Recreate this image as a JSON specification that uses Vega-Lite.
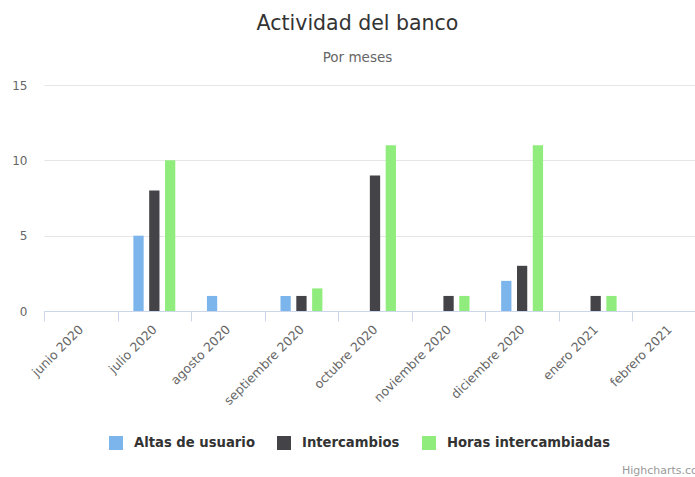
{
  "$schema": "https://vega.github.io/schema/vega-lite/v6.json",
  "width": 651,
  "height": 226,
  "autosize": {"type": "none"},
  "padding": {"left": 44, "top": 85, "right": 0, "bottom": 166},
  "background": "white",
  "config": {
    "font": "DejaVu Sans",
    "view": {"stroke": null}
  },
  "title": {
    "text": "Actividad del banco",
    "subtitle": "Por meses",
    "anchor": "middle",
    "frame": "group",
    "dx": -12,
    "fontSize": 20.5,
    "fontWeight": "normal",
    "color": "#333333",
    "subtitleFontSize": 13.5,
    "subtitleColor": "#666666",
    "subtitlePadding": 16,
    "offset": 15
  },
  "data": {
    "values": [
      {"mes": "junio 2020", "serie": "Altas de usuario", "valor": 0},
      {"mes": "junio 2020", "serie": "Intercambios", "valor": 0},
      {"mes": "junio 2020", "serie": "Horas intercambiadas", "valor": 0},
      {"mes": "julio 2020", "serie": "Altas de usuario", "valor": 5},
      {"mes": "julio 2020", "serie": "Intercambios", "valor": 8},
      {"mes": "julio 2020", "serie": "Horas intercambiadas", "valor": 10},
      {"mes": "agosto 2020", "serie": "Altas de usuario", "valor": 1},
      {"mes": "agosto 2020", "serie": "Intercambios", "valor": 0},
      {"mes": "agosto 2020", "serie": "Horas intercambiadas", "valor": 0},
      {"mes": "septiembre 2020", "serie": "Altas de usuario", "valor": 1},
      {"mes": "septiembre 2020", "serie": "Intercambios", "valor": 1},
      {"mes": "septiembre 2020", "serie": "Horas intercambiadas", "valor": 1.5},
      {"mes": "octubre 2020", "serie": "Altas de usuario", "valor": 0},
      {"mes": "octubre 2020", "serie": "Intercambios", "valor": 9},
      {"mes": "octubre 2020", "serie": "Horas intercambiadas", "valor": 11},
      {"mes": "noviembre 2020", "serie": "Altas de usuario", "valor": 0},
      {"mes": "noviembre 2020", "serie": "Intercambios", "valor": 1},
      {"mes": "noviembre 2020", "serie": "Horas intercambiadas", "valor": 1},
      {"mes": "diciembre 2020", "serie": "Altas de usuario", "valor": 2},
      {"mes": "diciembre 2020", "serie": "Intercambios", "valor": 3},
      {"mes": "diciembre 2020", "serie": "Horas intercambiadas", "valor": 11},
      {"mes": "enero 2021", "serie": "Altas de usuario", "valor": 0},
      {"mes": "enero 2021", "serie": "Intercambios", "valor": 1},
      {"mes": "enero 2021", "serie": "Horas intercambiadas", "valor": 1},
      {"mes": "febrero 2021", "serie": "Altas de usuario", "valor": 0},
      {"mes": "febrero 2021", "serie": "Intercambios", "valor": 0},
      {"mes": "febrero 2021", "serie": "Horas intercambiadas", "valor": 0}
    ]
  },
  "mark": {"type": "bar"},
  "encoding": {
    "x": {
      "field": "mes",
      "type": "nominal",
      "sort": null,
      "scale": {"range": [0, 662], "paddingInner": 0, "paddingOuter": 0},
      "axis": {
        "title": "Highcharts.com",
        "titleX": 664,
        "titleY": 162,
        "titleAlign": "right",
        "titleAnchor": null,
        "titleBaseline": "alphabetic",
        "titleFontSize": 11,
        "titleFontWeight": "normal",
        "titleColor": "#999999",
        "tickBand": "extent",
        "tickSize": 10,
        "tickColor": "#ccd6eb",
        "domainColor": "#ccd6eb",
        "labelAngle": -45,
        "labelAlign": "right",
        "labelBaseline": "middle",
        "labelFontSize": 12.5,
        "labelColor": "#666666",
        "labelPadding": 6,
        "grid": false
      }
    },
    "xOffset": {
      "field": "serie",
      "type": "nominal",
      "sort": ["Altas de usuario", "Intercambios", "Horas intercambiadas"],
      "scale": {"paddingInner": 0.35, "paddingOuter": 1.25}
    },
    "y": {
      "field": "valor",
      "type": "quantitative",
      "scale": {"domain": [0, 15]},
      "axis": {
        "title": null,
        "values": [0, 5, 10, 15],
        "ticks": false,
        "domain": false,
        "gridColor": "#e6e6e6",
        "labelFontSize": 12,
        "labelColor": "#666666",
        "labelPadding": 17
      }
    },
    "color": {
      "field": "serie",
      "type": "nominal",
      "scale": {
        "domain": ["Altas de usuario", "Intercambios", "Horas intercambiadas"],
        "range": ["#7cb5ec", "#434348", "#90ed7d"]
      },
      "legend": {
        "title": null,
        "orient": "none",
        "direction": "horizontal",
        "legendX": 65,
        "legendY": 351,
        "symbolType": "square",
        "symbolSize": 196,
        "symbolStrokeWidth": 0,
        "symbolOpacity": 1,
        "labelFontSize": 13.2,
        "labelFontWeight": "bold",
        "labelColor": "#333333",
        "labelOffset": 11,
        "labelLimit": 400,
        "columnPadding": 22
      }
    }
  }
}
